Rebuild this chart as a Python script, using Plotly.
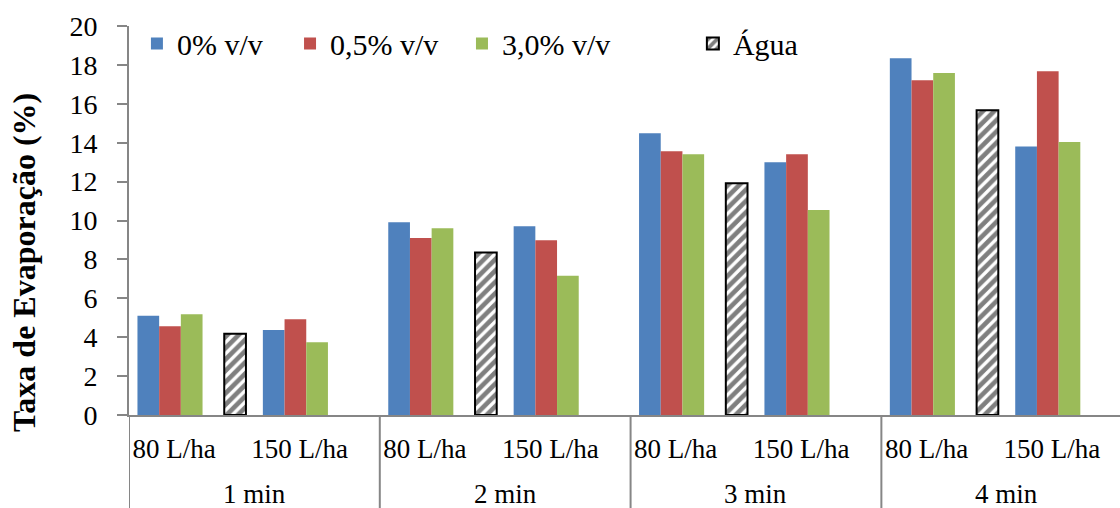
import plotly.graph_objects as go

# Evaporation rate (%) by exposure time and application volume
tempos = ["1 min", "2 min", "3 min", "4 min"]
vazoes = ["80 L/ha", "150 L/ha"]

conc_0 = [5.10, 4.37, 9.91, 9.70, 14.48, 12.99, 18.34, 13.81]
conc_05 = [4.56, 4.92, 9.10, 8.98, 13.56, 13.40, 17.21, 17.67]
conc_30 = [5.18, 3.74, 9.60, 7.16, 13.40, 10.54, 17.58, 14.04]
vazio = [None] * 8
agua = [4.18, None, 8.36, None, 11.91, None, 15.67, None]

y_ticks = list(range(0, 21, 2))

FONT = "Liberation Serif"
AXIS_GRAY = "#868686"

n_cat = len(tempos) * len(vazoes)
xpos = list(range(n_cat))
cat_labels = [v for _ in tempos for v in vazoes]

fig = go.Figure()

series = [
    ("0% v/v", conc_0, "#4F81BD", "legend"),
    ("0,5% v/v", conc_05, "#C0504D", "legend2"),
    ("3,0% v/v", conc_30, "#9BBB59", "legend3"),
]
for name, vals, color, leg in series:
    fig.add_trace(go.Bar(
        x=xpos, y=vals, name=name, legend=leg,
        marker=dict(color=color, line=dict(width=0)),
    ))

# empty slot in each cluster
fig.add_trace(go.Bar(x=xpos, y=vazio, name="", showlegend=False,
                     marker=dict(color="rgba(0,0,0,0)")))

fig.add_trace(go.Bar(
    x=xpos, y=agua, name="Água", legend="legend4",
    marker=dict(
        color="white",
        line=dict(color="black", width=2),
        pattern=dict(shape="/", fgcolor="black", bgcolor="white",
                     size=8, solidity=0.58),
    ),
))

# group dividers under the category axis
for k in range(len(tempos) + 1):
    xd = -0.5 + k * len(vazoes)
    fig.add_shape(type="line", xref="x", yref="paper",
                  x0=xd, x1=xd, y0=0, y1=-0.3,
                  line=dict(color=AXIS_GRAY, width=2))

# outer category labels (time)
for k, t in enumerate(tempos):
    fig.add_annotation(x=k * len(vazoes) + 0.5, y=-0.203, xref="x", yref="paper",
                       text=t, showarrow=False, yanchor="middle",
                       font=dict(family=FONT, size=27, color="black"))

# y axis title
fig.add_annotation(x=-0.106, y=0.393, xref="paper", yref="paper",
                   text="<b>Taxa de Evaporação (%)</b>", textangle=-90,
                   showarrow=False, xanchor="center", yanchor="middle",
                   font=dict(family=FONT, size=32, color="black"))

leg_common = dict(orientation="h", yanchor="middle", xanchor="left",
                  bgcolor="rgba(0,0,0,0)", borderwidth=0,
                  font=dict(family=FONT, size=30, color="black"))

fig.update_layout(
    width=1120, height=508,
    margin=dict(l=129, r=0, t=26, b=93),
    plot_bgcolor="white", paper_bgcolor="white",
    barmode="group", bargap=0.135, bargroupgap=0,
    showlegend=True,
    legend=dict(x=0.008, y=0.955, **leg_common),
    legend2=dict(x=0.1625, y=0.955, **leg_common),
    legend3=dict(x=0.336, y=0.955, **leg_common),
    legend4=dict(x=0.569, y=0.955, **leg_common),
    xaxis=dict(
        range=[-0.5, 7.403],
        tickvals=[p - 0.14 for p in xpos], ticktext=cat_labels,
        ticks="", showline=True, linecolor=AXIS_GRAY, linewidth=2,
        showgrid=False, zeroline=False, ticklabelstandoff=9,
        tickfont=dict(family=FONT, size=27, color="black"),
    ),
    yaxis=dict(
        range=[0, 20], tickvals=y_ticks, ticks="outside", ticklen=10,
        tickwidth=2, tickcolor=AXIS_GRAY, showline=True, linecolor=AXIS_GRAY,
        linewidth=2, showgrid=False, zeroline=False, ticklabelstandoff=14,
        tickfont=dict(family=FONT, size=28, color="black"),
    ),
)

fig.write_html("out.html")
